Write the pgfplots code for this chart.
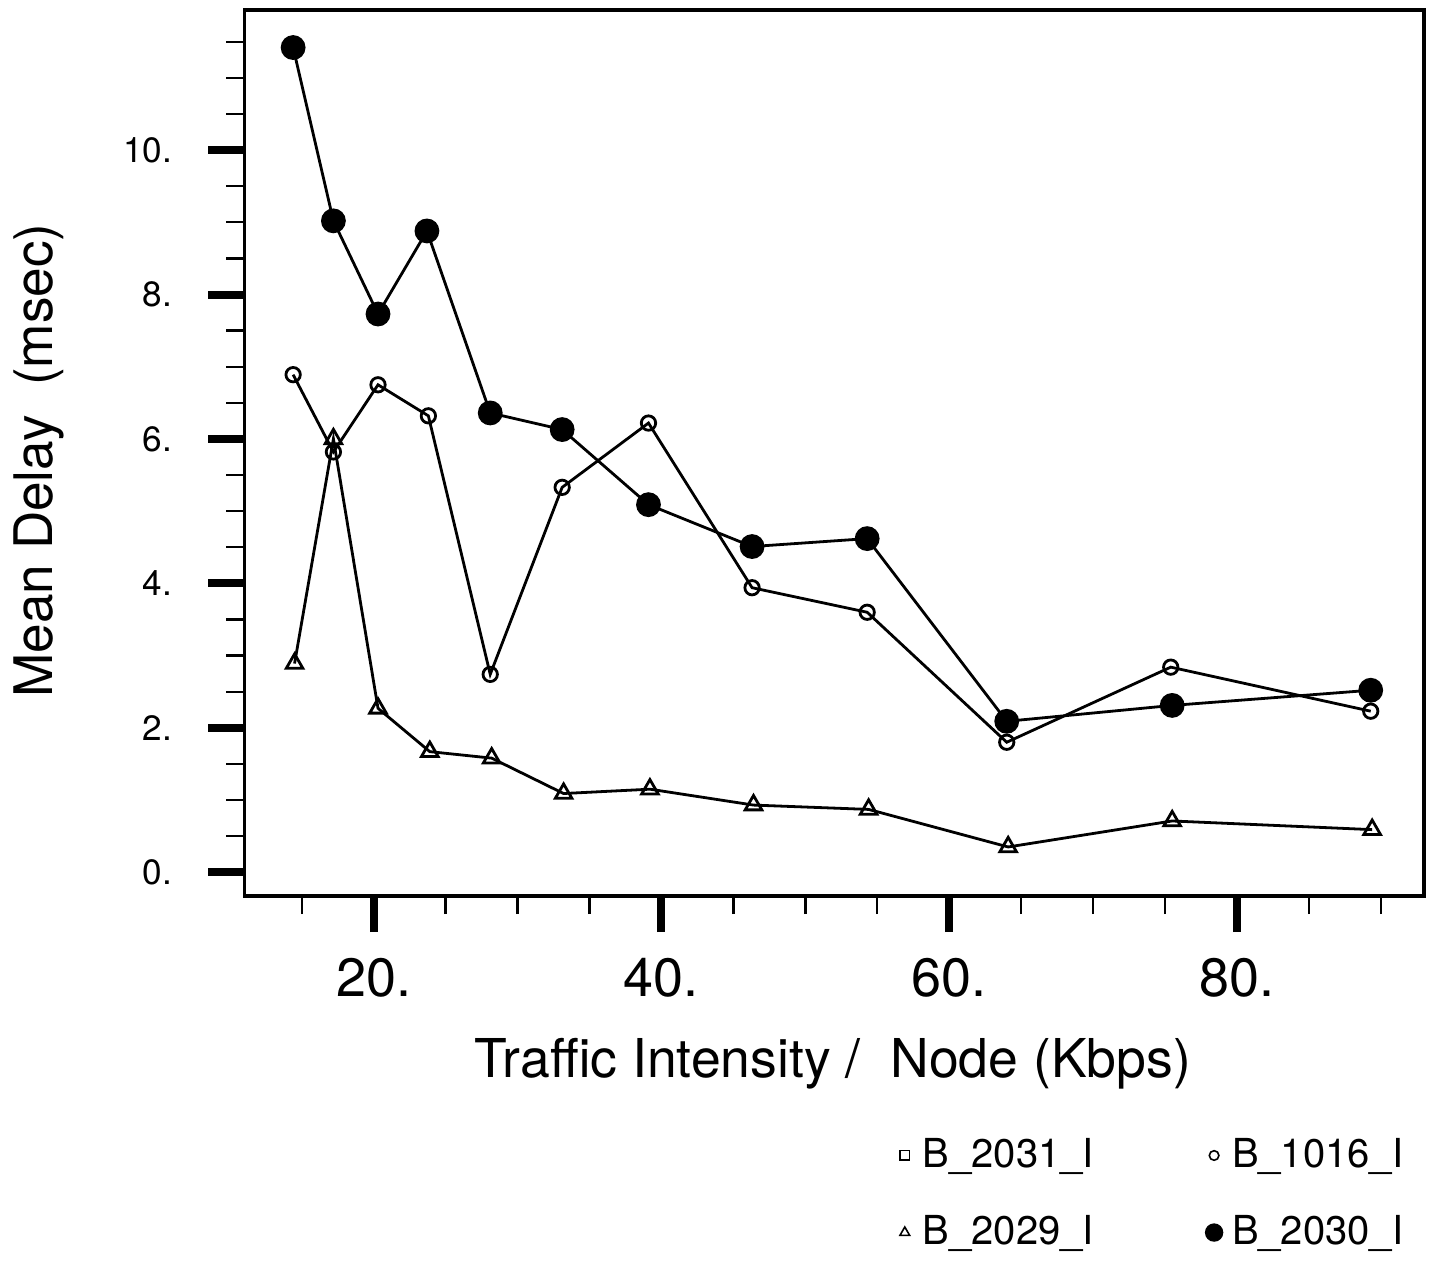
\documentclass[border=0pt]{standalone}
\usepackage{pgfplots}
\pgfplotsset{compat=1.18}
\usepackage{fontspec}
\setmainfont{TeX Gyre Heros}

\pgfplotstableread{
x y
14.4 11.42
17.2 9.02
20.3 7.73
23.7 8.88
28.1 6.36
33.1 6.13
39.1 5.09
46.3 4.51
54.3 4.62
64.0 2.09
75.5 2.31
89.3 2.52
}\bthirty

\pgfplotstableread{
x y
14.4 6.89
17.2 5.82
20.3 6.75
23.8 6.32
28.1 2.74
33.1 5.33
39.1 6.22
46.3 3.94
54.3 3.60
64.0 1.80
75.4 2.84
89.3 2.23
}\bonesixteen

\pgfplotstableread{
x y
14.5 2.89
17.2 6.00
20.3 2.27
23.9 1.67
28.2 1.58
33.2 1.09
39.2 1.15
46.4 0.93
54.4 0.87
64.1 0.35
75.5 0.71
89.4 0.59
}\btwentynine

\begin{document}
\begin{tikzpicture}
\begin{axis}[
  scale only axis, width=295.25pt, height=221.75pt,
  at={(0pt,0pt)}, anchor=south west,
  xmin=11, xmax=93, ymin=-0.33, ymax=11.94,
  xtick pos=left, ytick pos=left,
  tick align=outside,
  xtick={20,40,60,80}, xticklabels={20.,40.,60.,80.},
  minor xtick={15,25,30,35,45,50,55,65,70,75,85,90},
  ytick={0,2,4,6,8,10}, yticklabels={0.,2.,4.,6.,8.,10.},
  minor ytick={0.5,1,1.5,2.5,3,3.5,4.5,5,5.5,6.5,7,7.5,8.5,9,9.5,10.5,11,11.5},
  major tick length=9pt, minor tick length=4.5pt,
  major tick style={line width=2pt, black},
  minor tick style={line width=0.6pt, black},
  axis line style={line width=0.8pt},
  xticklabel style={font=\fontsize{13.5}{15}\selectfont, yshift=-3pt},
  yticklabel style={font=\fontsize{8.8}{10}\selectfont, xshift=-5.5pt},
  xlabel={Traffic Intensity /\ \ Node (Kbps)},
  ylabel={Mean Delay\ \ (msec)},
  xlabel style={font=\fontsize{13.4}{15}\selectfont, at={(axis description cs:0.499,-0.189)}, anchor=center},
  ylabel style={font=\fontsize{13.3}{15}\selectfont, at={(axis description cs:-0.1744,0.4915)}, anchor=center},
  legend style={draw=none, fill=none, at={(axis description cs:0.545,-0.254)}, anchor=north west,
    font=\fontsize{10}{12}\selectfont, row sep=6.5pt,
    /tikz/every even column/.append style={column sep=26pt}},
  legend columns=2, legend cell align=left,
  legend image code/.code={\draw[#1] plot coordinates {(0pt,0pt)}; \path (2.3pt,0pt);},
]
\addlegendimage{only marks, mark=square, mark size=1.2pt, black}
\addlegendentry{B\_2031\_I}
\addlegendimage{only marks, mark=o, mark size=1.2pt, black}
\addlegendentry{B\_1016\_I}
\addlegendimage{only marks, mark=triangle, mark size=1.4pt, black}
\addlegendentry{B\_2029\_I}
\addlegendimage{only marks, mark=*, mark size=2.1pt, black}
\addlegendentry{B\_2030\_I}

\addplot[forget plot, black, line width=0.7pt, mark=triangle, mark size=2.4pt, mark options={fill=white, line width=0.7pt}] table {\btwentynine};
\addplot[forget plot, black, line width=0.7pt, mark=o, mark size=1.8pt, mark options={fill=white, line width=0.7pt}] table {\bonesixteen};
\addplot[forget plot, black, line width=0.7pt, mark=*, mark size=2.75pt, mark options={fill=black}] table {\bthirty};
\end{axis}
\path (-60.75pt,-89pt) rectangle (298.25pt,224.25pt);
\end{tikzpicture}
\end{document}
